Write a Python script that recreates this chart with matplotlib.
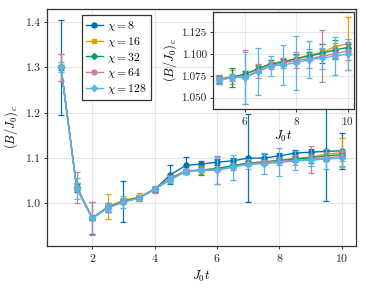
import numpy as np
import matplotlib
matplotlib.use("Agg")
import matplotlib.pyplot as plt

plt.rcParams['font.family'] = 'cmr10'
plt.rcParams['mathtext.fontset'] = 'cm'
plt.rcParams['axes.formatter.use_mathtext'] = True

# time grid J0 t
t = [1.0, 1.5, 2.0, 2.5, 3.0, 3.5, 4.0, 4.5, 5.0, 5.5,
     6.0, 6.5, 7.0, 7.5, 8.0, 8.5, 9.0, 9.5, 10.0]

# bond dimensions
chis = [8, 16, 32, 64, 128]

# critical field estimates (B/J0)_c for each chi
b_chi8 = [1.300, 1.035, 0.968, 0.991, 1.004, 1.012, 1.031, 1.063, 1.084, 1.087,
          1.091, 1.094, 1.100, 1.100, 1.105, 1.111, 1.113, 1.115, 1.116]
b_chi16 = [1.300, 1.036, 0.968, 0.993, 1.007, 1.014, 1.032, 1.056, 1.072, 1.074,
           1.077, 1.0835, 1.089, 1.092, 1.095, 1.099, 1.102, 1.1085, 1.1123]
b_chi32 = [1.300, 1.036, 0.968, 0.991, 1.005, 1.013, 1.031, 1.055, 1.071, 1.0735,
           1.077, 1.083, 1.089, 1.091, 1.095, 1.098, 1.101, 1.105, 1.1077]
b_chi64 = [1.300, 1.035, 0.967, 0.990, 1.004, 1.012, 1.031, 1.054, 1.071, 1.073,
           1.074, 1.081, 1.087, 1.090, 1.093, 1.095, 1.0975, 1.1005, 1.1038]
b_chi128 = [1.300, 1.033, 0.967, 0.990, 1.003, 1.012, 1.031, 1.052, 1.070, 1.0735,
            1.073, 1.0796, 1.0865, 1.0877, 1.0904, 1.0938, 1.0954, 1.098, 1.100]

# error bars (half widths)
e_chi8 = [0.105, 0.010, 0.036, 0.010, 0.045, 0.006, 0.006, 0.021, 0.019, 0.006,
          0.006, 0.006, 0.097, 0.008, 0.006, 0.006, 0.006, 0.110, 0.039]
e_chi16 = [0.030, 0.008, 0.005, 0.028, 0.006, 0.008, 0.005, 0.006, 0.004, 0.008,
           0.004, 0.004, 0.004, 0.004, 0.004, 0.004, 0.004, 0.004, 0.031]
e_chi32 = [0.005, 0.006, 0.004, 0.010, 0.004, 0.004, 0.004, 0.004, 0.004, 0.011,
           0.004, 0.004, 0.004, 0.004, 0.005, 0.005, 0.011, 0.011, 0.004]
e_chi64 = [0.030, 0.035, 0.036, 0.006, 0.006, 0.005, 0.008, 0.006, 0.005, 0.004,
           0.031, 0.008, 0.004, 0.006, 0.009, 0.011, 0.030, 0.005, 0.010]
e_chi128 = [0.011, 0.024, 0.004, 0.010, 0.013, 0.004, 0.004, 0.008, 0.004, 0.004,
            0.030, 0.027, 0.011, 0.023, 0.031, 0.021, 0.012, 0.022, 0.018]

values = [b_chi8, b_chi16, b_chi32, b_chi64, b_chi128]
errors = [e_chi8, e_chi16, e_chi32, e_chi64, e_chi128]

# makie wong palette and markers
colors = ['#0072B2', '#E69F00', '#009E73', '#CC79A7', '#56B4E9']
markers = ['o', 's', 'D', 'h', (4, 1, 0)]
msizes = [3.6, 3.2, 3.0, 3.7, 5.0]

fig = plt.figure(figsize=(3.66, 2.92), dpi=100)
ax = fig.add_axes([0.1284, 0.1575, 0.844, 0.8116])
axin = fig.add_axes([0.582, 0.6267, 0.385, 0.332])

def style(a, fs):
    a.grid(True, color='#e6e6e6', lw=0.8)
    a.set_axisbelow(True)
    for s in a.spines.values():
        s.set_color('#333333')
        s.set_linewidth(0.9)
    a.tick_params(direction='out', length=2.5, width=0.7, color='#333333',
                  labelsize=fs, pad=2, labelcolor='#222222')

handles = []
for i in range(len(chis)):
    cont = ax.errorbar(t, values[i], yerr=errors[i], color=colors[i], marker=markers[i],
                       ms=msizes[i], lw=1.0, elinewidth=0.9, capsize=2.5, capthick=0.9,
                       label=r'$\chi = %d$' % chis[i], zorder=3 + i)
    handles.append(cont[0])
    if i > 0:
        # inset only shows t >= 5
        axin.errorbar(t[8:], values[i][8:], yerr=errors[i][8:], color=colors[i],
                      marker=markers[i], ms=msizes[i], lw=1.0, elinewidth=0.9,
                      capsize=2.5, capthick=0.9, zorder=3 + i)

style(ax, 8.5)
ax.set_xlim(0.55, 10.45)
ax.set_ylim(0.906, 1.429)
ax.set_xticks([2, 4, 6, 8, 10])
ax.set_yticks([1.0, 1.1, 1.2, 1.3, 1.4])
ax.set_yticklabels(['1.0', '1.1', '1.2', '1.3', '1.4'])
ax.set_xlabel(r'$J_0 t$', fontsize=9, labelpad=3)
ax.set_ylabel(r'$(B/J_0)_c$', fontsize=9, labelpad=4)

leg = ax.legend(handles, [r'$\chi = %d$' % c for c in chis],
                loc='upper left', bbox_to_anchor=(0.113, 0.975), fontsize=8.5,
                frameon=True, fancybox=False, handlelength=1.4, handletextpad=0.4,
                borderpad=0.35, labelspacing=0.15, borderaxespad=0.0, framealpha=1)
leg.get_frame().set_edgecolor('#333333')
leg.get_frame().set_linewidth(0.9)

style(axin, 8)
axin.set_xlim(4.75, 10.25)
axin.set_ylim(1.037, 1.1485)
axin.set_xticks([6, 8, 10])
axin.set_yticks([1.050, 1.075, 1.100, 1.125])
axin.set_yticklabels(['1.050', '1.075', '1.100', '1.125'])
axin.set_xlabel(r'$J_0 t$', fontsize=9, labelpad=1)
axin.set_ylabel(r'$(B/J_0)_c$', fontsize=9, labelpad=2)

fig.savefig('out.png', dpi=100)
